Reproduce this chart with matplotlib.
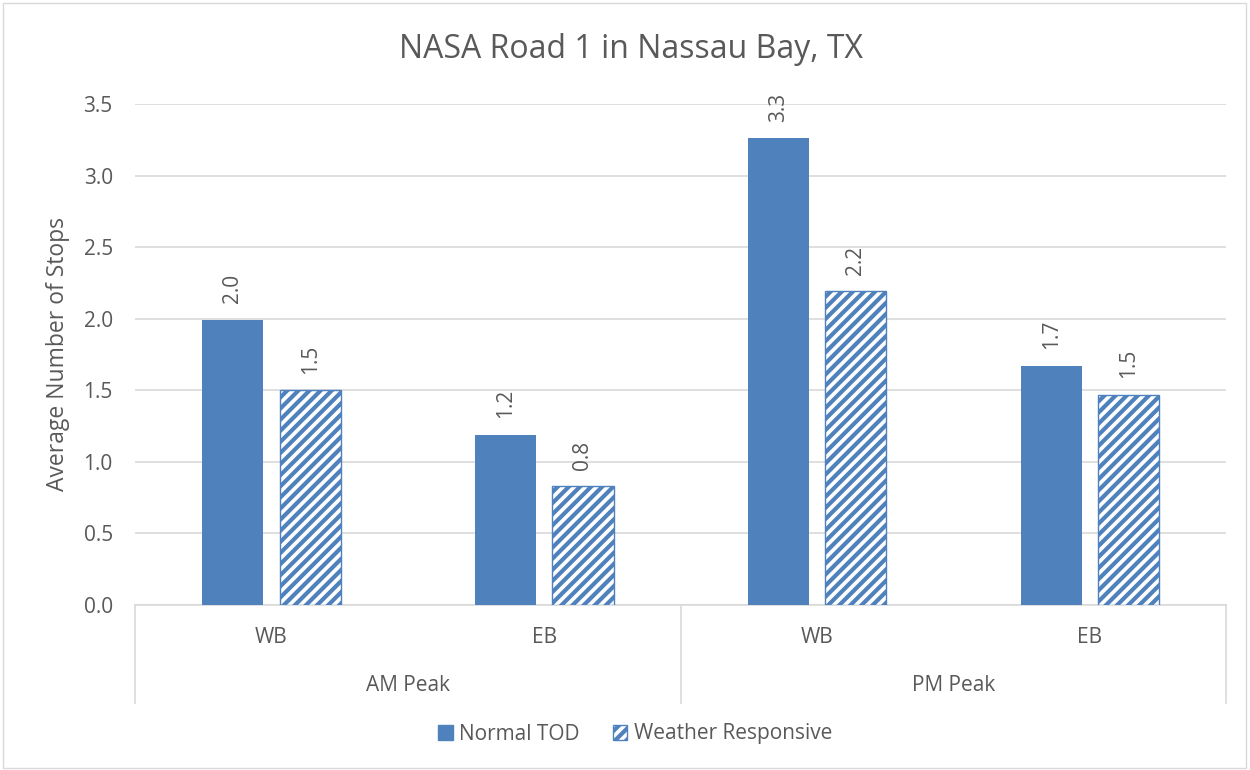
import numpy as np
import matplotlib.pyplot as plt
from matplotlib.patches import Patch

# data
directions = ["WB", "EB", "WB", "EB"]
periods = ["AM Peak", "PM Peak"]
normal_tod = [1.99, 1.19, 3.26, 1.67]
weather_resp = [1.50, 0.83, 2.19, 1.47]
series_names = ["Normal TOD", "Weather Responsive"]

blue = "#4F81BD"
text_col = "#595959"
grid_col = "#D9D9D9"

plt.rcParams['font.family'] = ['Open Sans', 'DejaVu Sans']
plt.rcParams['hatch.linewidth'] = 3.0

fig = plt.figure(figsize=(12.5, 7.7), dpi=100)
ax = fig.add_axes([0.108, 0.2143, 0.873, 0.6507])

x = np.arange(len(directions))
w = 0.224
off = 0.142

b1 = ax.bar(x - off, normal_tod, w, color=blue, zorder=3)
b2 = ax.bar(x + off, weather_resp, w, facecolor="white", edgecolor=blue,
            hatch="///", linewidth=1.0, zorder=3)

for bars, vals in [(b1, normal_tod), (b2, weather_resp)]:
    for b, v in zip(bars, vals):
        ax.annotate(f"{v:.1f}", (b.get_x() + b.get_width() / 2, v),
                    xytext=(0, 12), textcoords="offset points",
                    rotation=90, ha="center", va="bottom",
                    fontsize=15, color=text_col)

ax.set_xlim(-0.5, 3.5)
ax.set_ylim(0, 3.5)
ax.set_yticks(np.arange(0, 3.51, 0.5))
ax.set_yticklabels([f"{t:.1f}" for t in np.arange(0, 3.51, 0.5)])
ax.yaxis.grid(True, color=grid_col, linewidth=1.2, zorder=0)
ax.set_axisbelow(True)
ax.tick_params(axis="y", length=0, labelsize=15, labelcolor=text_col, pad=16)
ax.set_xticks([])
for s in ["top", "right", "left"]:
    ax.spines[s].set_visible(False)
ax.spines["bottom"].set_color(grid_col)
ax.spines["bottom"].set_linewidth(1.2)

ax.set_ylabel("Average Number of Stops", fontsize=16.5, color=text_col, labelpad=10)
fig.text(0.505, 1 - 50 / 770, "NASA Road 1 in Nassau Bay, TX", fontsize=23,
         color=text_col, ha="center", va="center")

# multi-level category axis
trans = ax.get_xaxis_transform()
for xv in [-0.5, 1.5, 3.5]:
    ax.plot([xv, xv], [0, -0.195], transform=trans, color=grid_col,
            linewidth=1.2, clip_on=False)
for xi, d in zip(x, directions):
    ax.text(xi, -0.064, d, transform=trans, ha="center", va="center",
            fontsize=15, color=text_col)
for gi, p in enumerate(periods):
    ax.text(0.5 + 2 * gi, -0.16, p, transform=trans, ha="center", va="center",
            fontsize=15, color=text_col)

handles = [Patch(facecolor=blue, edgecolor=blue),
           Patch(facecolor="white", edgecolor=blue, hatch="///")]
fig.legend(handles, series_names, loc="center", bbox_to_anchor=(0.508, 1 - 734 / 770),
           ncol=2, frameon=False, fontsize=15, labelcolor=text_col,
           handlelength=0.7, handleheight=0.7, columnspacing=1.6, handletextpad=0.3)

fig.patches.append(plt.Rectangle((0.002, 0.003), 0.995, 0.993, transform=fig.transFigure,
                                 fill=False, edgecolor=grid_col, linewidth=1))

fig.savefig("out.png", dpi=100)
